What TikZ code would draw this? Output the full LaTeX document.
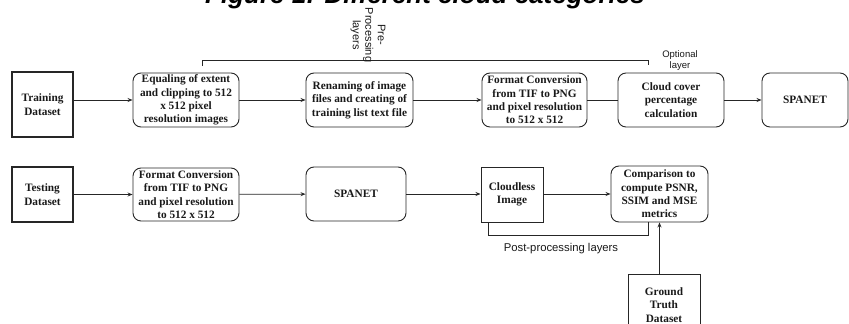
\documentclass[tikz,border=0pt]{standalone}
\usepackage{fontspec}
\setmainfont{Liberation Serif}
\newfontfamily\lsans{Liberation Sans}
\usetikzlibrary{arrows.meta}
\begin{document}
\begin{tikzpicture}[x=1pt,y=-1pt,
  boxtext/.style={font=\fontsize{11.3}{13.3}\selectfont\bfseries, align=center, inner sep=0pt, text=black!90},
  sqbox/.style={boxtext, draw=black!85, line width=1.3pt},
  rbox/.style={boxtext, draw=black!85, line width=0.9pt, rounded corners=8pt},
  link/.style={draw=black!85, line width=0.8pt},
  arr/.style={link, -{Stealth[length=5pt,width=4pt]}},
  note/.style={font=\lsans\fontsize{10}{12.5}\selectfont, align=center, inner sep=0pt, text=black!90}
]
\useasboundingbox (0,0) rectangle (849,324);

% heading (runs off the top edge)
\node[font=\lsans\bfseries\itshape\fontsize{26}{30}\selectfont, anchor=base, inner sep=0pt] (title) at (425,3) {Figure 1: Different cloud categories};

% training pipeline
\node[sqbox, minimum width=61pt, minimum height=65pt] (tr) at (42.5,104.5) {Training\\Dataset};
\node[rbox, minimum width=106pt, minimum height=54pt] (eq) at (186,100) {Equaling of extent\\and clipping to 512\\x 512 pixel\\resolution images};
\node[rbox, minimum width=107pt, minimum height=54pt] (rn) at (359.5,100) {Renaming of image\\files and creating of\\training list text file};
\node[rbox, minimum width=105pt, minimum height=54pt] (fc) at (534.5,100) {Format Conversion\\from TIF to PNG\\and pixel resolution\\to 512 x 512};
\node[rbox, minimum width=106pt, minimum height=54pt] (cc) at (671,100) {Cloud cover\\percentage\\calculation};
\node[rbox, minimum width=86pt, minimum height=54pt] (sp) at (805,100) {SPANET};

\draw[arr] (tr.east |- eq.west) -- (eq.west);
\draw[arr] (eq) -- (rn);
\draw[arr] (rn) -- (fc);
\draw[link] (fc) -- (cc);
\draw[arr] (cc) -- (sp);

% pre-processing bracket
\coordinate (preL) at (202,66);
\coordinate (preR) at (648,65);
\draw[link] (preL) -- (preL |- 0,60) -- (preR |- 0,60) -- (preR);
\node[note, font=\lsans\fontsize{11}{12.5}\selectfont, rotate=-90] (prelbl) at (368,35) {Pre-\\Processing\\layers};
\node[note, font=\lsans\fontsize{9.5}{11}\selectfont] (optlbl) at (680,60.5) {Optional\\layer};

% testing pipeline
\node[sqbox, minimum width=61pt, minimum height=55pt] (ts) at (42.5,194.5) {Testing\\Dataset};
\node[rbox, minimum width=106pt, minimum height=53pt] (fc2) at (186,194.5) {Format Conversion\\from TIF to PNG\\and pixel resolution\\to 512 x 512};
\node[rbox, minimum width=100pt, minimum height=54pt] (sp2) at (356,194) {SPANET};
\node[sqbox, line width=1pt, minimum width=62pt, minimum height=55pt] (cl) at (512,194.5) {Cloudless\\Image};
\node[rbox, minimum width=97pt, minimum height=56pt] (cmp) at (659.5,194) {Comparison to\\compute PSNR,\\SSIM and MSE\\metrics};
\node[sqbox, line width=1pt, minimum width=72pt, minimum height=62pt] (gt) at (664,305) {Ground\\Truth\\Dataset};

\draw[arr] (ts.east |- fc2.west) -- (fc2.west);
\draw[arr] (fc2) -- (sp2);
\draw[arr] (sp2.east) -- (cl.west |- sp2.east);
\draw[arr] (cl.east |- cmp.west) -- (cmp.west);
\draw[arr] (gt.north -| cmp.south) -- (cmp.south);

% post-processing bracket
\coordinate (postL) at (cl.south -| 488,0);
\coordinate (postR) at (cmp.south -| 648,0);
\draw[link] (postL) -- (postL |- 0,235) -- (postR |- 0,235) -- (postR);
\node[note, font=\lsans\fontsize{11.3}{13}\selectfont] (postlbl) at (561,249) {Post-processing layers};
\end{tikzpicture}
\end{document}
